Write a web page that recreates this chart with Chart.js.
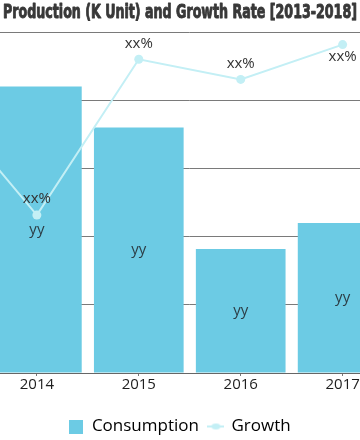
<!DOCTYPE html>
<html><head><meta charset="utf-8">
<script src="https://cdn.jsdelivr.net/npm/chart.js@4.4.0/dist/chart.umd.min.js"></script>
<style>
html,body{margin:0;padding:0;width:360px;height:440px;overflow:hidden;background:#fff;}
#wrap{position:absolute;left:-140px;top:0;width:640px;height:445px;}
canvas{display:block;}
</style></head><body>
<div id="wrap"><canvas id="c" width="640" height="445"></canvas></div>
<script>
const titleText = 'Production (K Unit) and Growth Rate [2013-2018]';
const categories = ['2013', '2014', '2015', '2016', '2017', '2018'];
const consumption = [90, 84, 72, 36.4, 44, 50];
const growth = [82, 46.3, 92, 86.1, 96.3, null];
const barLabels = ['yy', 'yy', 'yy', 'yy', 'yy', 'yy'];
const growthLabels = ['xx%', 'xx%', 'xx%', 'xx%', 'xx%', 'xx%'];
const seriesNames = ['Consumption', 'Growth'];
const yMin = 0, yMax = 100, yStep = 20;

const barColor = '#6ccbe4';
const lineColor = '#c3eff5';
const FONT = '"Open Sans", "Noto Sans", sans-serif';

function makeBox() {
  const c = document.createElement('canvas'); c.width = 14; c.height = 14;
  const g = c.getContext('2d'); g.fillStyle = barColor; g.fillRect(0, 0, 14, 14); return c;
}
function makeLine() {
  const c = document.createElement('canvas'); c.width = 17; c.height = 8;
  const g = c.getContext('2d'); g.strokeStyle = lineColor; g.lineWidth = 2;
  g.beginPath(); g.moveTo(0, 4); g.lineTo(17, 4); g.stroke();
  g.fillStyle = lineColor; g.beginPath(); g.ellipse(8.5, 4, 4.5, 3, 0, 0, Math.PI * 2); g.fill();
  return c;
}
const legendIcons = [makeBox(), makeLine()];

const titlePlugin = {
  id: 'condTitle',
  afterDraw(chart) {
    const ctx = chart.ctx;
    ctx.save();
    ctx.font = 'bold 19px "Liberation Sans Narrow", "DejaVu Sans Condensed", "Liberation Sans", sans-serif';
    const w = ctx.measureText(titleText).width;
    const target = 354;
    ctx.translate(chart.width / 2, 17.5);
    ctx.scale(target / w, 1);
    ctx.textAlign = 'center';
    ctx.textBaseline = 'alphabetic';
    ctx.fillStyle = '#383838';
    ctx.strokeStyle = '#383838';
    ctx.lineWidth = 0.9;
    ctx.lineJoin = 'round';
    ctx.strokeText(titleText, 0, 0);
    ctx.fillText(titleText, 0, 0);
    ctx.restore();
  }
};

const labelPlugin = {
  id: 'valLabels',
  afterDatasetsDraw(chart) {
    const ctx = chart.ctx;
    const area = chart.chartArea;
    ctx.save();
    ctx.font = '15px ' + FONT;
    ctx.textAlign = 'center';
    ctx.textBaseline = 'middle';
    chart.getDatasetMeta(0).data.forEach((el, i) => {
      if (consumption[i] == null) return;
      ctx.fillStyle = '#2c3e46';
      ctx.fillText(barLabels[i], el.x, (el.y + el.base) / 2);
    });
    chart.getDatasetMeta(1).data.forEach((el, i) => {
      if (growth[i] == null) return;
      ctx.fillStyle = '#333';
      let ly = el.y - 16;
      if (ly - 9 < area.top) ly = el.y + 12;
      ctx.fillText(growthLabels[i], el.x, ly);
    });
    ctx.restore();
  }
};

new Chart(document.getElementById('c'), {
  type: 'bar',
  data: {
    labels: categories,
    datasets: [
      { type: 'bar', label: seriesNames[0], data: consumption, backgroundColor: barColor,
        barPercentage: 0.88, categoryPercentage: 1.0, yAxisID: 'y', order: 1 },
      { type: 'line', label: seriesNames[1], data: growth, borderColor: lineColor, backgroundColor: lineColor,
        borderWidth: 2, pointRadius: 4.5, pointBackgroundColor: lineColor, pointBorderWidth: 0,
        tension: 0, spanGaps: false, yAxisID: 'y1', order: 0 }
    ]
  },
  options: {
    responsive: false,
    animation: false,
    devicePixelRatio: 1,
    layout: { padding: { left: 0, right: 0, top: 32, bottom: 0 } },
    scales: {
      x: {
        grid: { display: true, drawOnChartArea: false, drawTicks: true, tickLength: 3, offset: false, color: '#777' },
        border: { display: true, color: '#666', width: 1 },
        ticks: { font: { size: 15, family: FONT }, color: '#1e1e1e', padding: 0 },
        afterFit(s) { s.height = 35; }
      },
      y: {
        min: yMin, max: yMax,
        ticks: { display: false, stepSize: yStep },
        grid: { color: '#7a7a7a', drawTicks: false },
        border: { display: false },
        afterFit(s) { s.width = 24; }
      },
      y1: { display: false, min: yMin, max: yMax }
    },
    plugins: {
      title: { display: false },
      tooltip: { enabled: false },
      legend: {
        position: 'bottom',
        labels: {
          usePointStyle: true,
          pointStyleWidth: 14,
          boxHeight: 14,
          padding: 10,
          color: '#333',
          font: { size: 17, family: FONT },
          generateLabels(chart) {
            return seriesNames.map((n, i) => ({
              text: n, pointStyle: legendIcons[i], datasetIndex: i,
              fillStyle: i === 0 ? barColor : lineColor, strokeStyle: 'transparent', lineWidth: 0, hidden: false
            }));
          }
        }
      }
    }
  },
  plugins: [titlePlugin, labelPlugin]
});
</script>
</body></html>
